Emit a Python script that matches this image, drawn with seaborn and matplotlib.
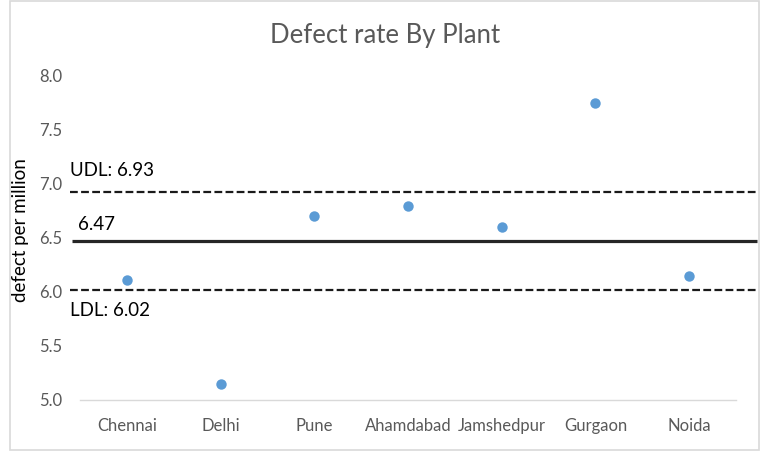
"""
Defect rate per plant with mean and upper / lower decision limits.
"""
import matplotlib
matplotlib.use("Agg")
import matplotlib.pyplot as plt
import matplotlib.patches as mpatches
import pandas as pd
import seaborn as sns

sns.set_style("white")
plt.rcParams["font.family"] = ["Lato", "DejaVu Sans"]

plants = ["Chennai", "Delhi", "Pune", "Ahamdabad", "Jamshedpur", "Gurgaon", "Noida"]
defects = [6.11, 5.15, 6.70, 6.80, 6.60, 7.75, 6.15]
mean_val = 6.47
udl = 6.93
ldl = 6.02

GREY = "#595959"

if __name__ == "__main__":
    df = pd.DataFrame({"plant": plants, "defect": defects})

    fig = plt.figure(figsize=(7.61, 4.51), dpi=100)
    ax = fig.add_axes([80 / 761, 51 / 451, 656 / 761, 324 / 451])

    sns.stripplot(x="plant", y="defect", data=df, ax=ax, jitter=False,
                  color="#5B9BD5", size=7.5, linewidth=0, zorder=3)

    ax.set_xlim(-0.5, len(plants) - 0.5)
    ax.set_ylim(5.0, 8.0)
    ax.set_yticks([5.0, 5.5, 6.0, 6.5, 7.0, 7.5, 8.0])
    ax.set_yticklabels(["{:.1f}".format(t) for t in ax.get_yticks()])

    # control lines run a bit past the plot area, like in excel
    tr = ax.get_yaxis_transform()
    ax.hlines([udl, ldl], -0.015, 1.032, transform=tr, colors="#1a1a1a",
              linestyles=(0, (3.5, 1.5)), linewidth=1.6, clip_on=False, zorder=2)
    ax.hlines(mean_val, -0.012, 1.032, transform=tr, colors="#262626",
              linewidth=2.3, clip_on=False, zorder=2)

    ax.annotate("UDL: {:.2f}".format(udl), xy=(-0.015, udl), xycoords=tr,
                xytext=(0, 15), textcoords="offset points", fontsize=13.5,
                color="black", va="center", ha="left", annotation_clip=False)
    ax.annotate("{:.2f}".format(mean_val), xy=(-0.003, mean_val), xycoords=tr,
                xytext=(0, 12), textcoords="offset points", fontsize=13.5,
                color="black", va="center", ha="left", annotation_clip=False,
                bbox=dict(facecolor="white", edgecolor="none", pad=1))
    ax.annotate("LDL: {:.2f}".format(ldl), xy=(-0.015, ldl), xycoords=tr,
                xytext=(0, -15), textcoords="offset points", fontsize=13.5,
                color="black", va="center", ha="left", annotation_clip=False)

    for s in ["top", "right", "left"]:
        ax.spines[s].set_visible(False)
    ax.spines["bottom"].set_color("#D9D9D9")
    ax.spines["bottom"].set_linewidth(1)

    ax.tick_params(axis="both", length=0, labelsize=12, labelcolor=GREY)
    ax.tick_params(axis="y", pad=13)
    ax.tick_params(axis="x", pad=13)
    ax.set_xlabel("")
    ax.set_ylabel("defect per million", fontsize=13.5, color="black")
    ax.yaxis.set_label_coords(-0.078, 0.525)

    fig.text(385 / 761, 1 - 36 / 451, "Defect rate By Plant", fontsize=18.5,
             color=GREY, ha="center", va="center")

    # light chart border
    fig.patches.append(mpatches.Rectangle((10 / 761, 1 / 451), 749 / 761, 449 / 451,
                                          transform=fig.transFigure, fill=False,
                                          edgecolor="#D9D9D9", linewidth=1.2))

    fig.savefig("out.png", dpi=100)
